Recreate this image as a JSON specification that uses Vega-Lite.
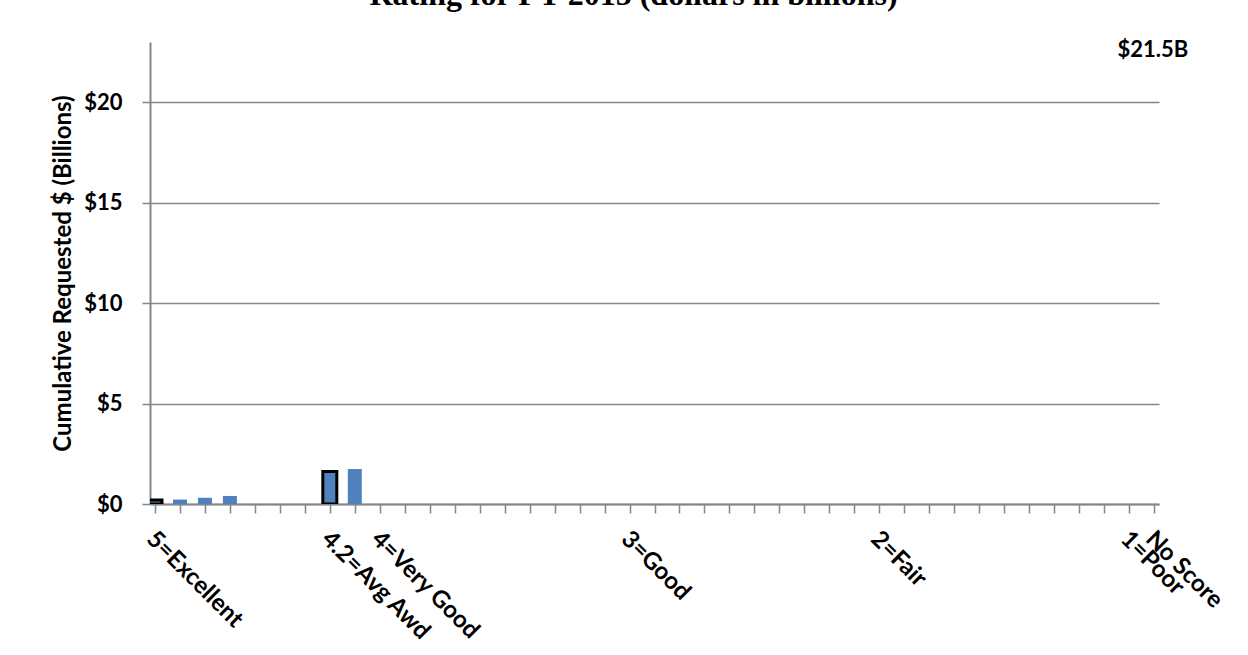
{
  "$schema": "https://vega.github.io/schema/vega-lite/v6.json",
  "width": 1009,
  "height": 462,
  "autosize": {"type": "none"},
  "padding": {"left": 150, "top": 42, "right": 89, "bottom": 151},
  "background": "white",
  "title": {
    "text": "Rating for FY 2015 (dollars in billions)",
    "font": "Liberation Serif",
    "fontSize": 32,
    "fontWeight": "bold",
    "color": "black",
    "anchor": "middle",
    "baseline": "alphabetic",
    "offset": 2,
    "dx": -21
  },
  "config": {"view": {"stroke": null}, "font": "Lato"},
  "layer": [
    {
      "data": {
        "values": [
          {"idx": 0, "value": 0.2},
          {"idx": 1, "value": 0.22},
          {"idx": 2, "value": 0.31},
          {"idx": 3, "value": 0.4},
          {"idx": 7, "value": 1.62},
          {"idx": 8, "value": 1.74}
        ]
      },
      "mark": {"type": "bar", "width": 14, "clip": true, "color": "#4F81BD"},
      "encoding": {
        "x": {
          "field": "idx",
          "type": "quantitative",
          "scale": {"domain": [0, 40], "nice": false, "zero": false},
          "axis": {
            "values": [0,1,2,3,4,5,6,7,8,9,10,11,12,13,14,15,16,17,18,19,20,21,22,23,24,25,26,27,28,29,30,31,32,33,34,35,36,37,38,39,40],
            "tickCount": 100,
            "title": null,
            "grid": false,
            "tickSize": 9,
            "tickColor": "#868686",
            "tickWidth": 1.5,
            "domainColor": "#868686",
            "domainWidth": 2,
            "labelExpr": "datum.value == 0 ? '5=Excellent' : datum.value == 7 ? '4.2=Avg Awd' : datum.value == 9 ? '4=Very Good' : datum.value == 19 ? '3=Good' : datum.value == 29 ? '2=Fair' : datum.value == 39 ? '1=Poor' : datum.value == 40 ? 'No Score' : ''",
            "labelAngle": 45,
            "labelAlign": "left",
            "labelBaseline": "middle",
            "labelPadding": 22,
            "labelOffset": -5,
            "labelFont": "Lato",
            "labelFontSize": 24,
            "labelFontWeight": "bold",
            "labelColor": "black",
            "labelOverlap": false,
            "labelBound": false,
            "labelFlush": false
          }
        },
        "y": {
          "field": "value",
          "type": "quantitative",
          "scale": {"domain": [0, 23], "nice": false},
          "axis": {
            "values": [0, 5, 10, 15, 20],
            "labelExpr": "'$' + datum.value",
            "grid": true,
            "gridColor": "#868686",
            "gridWidth": 1.5,
            "tickSize": 8,
            "tickColor": "#868686",
            "tickWidth": 1.5,
            "domainColor": "#868686",
            "domainWidth": 2,
            "labelFont": "Lato",
            "labelFontSize": 22,
            "labelFontWeight": "bold",
            "labelColor": "black",
            "labelPadding": 20,
            "title": "Cumulative Requested $ (Billions)",
            "titleFont": "Lato",
            "titleFontSize": 24,
            "titleFontWeight": "bold",
            "titleColor": "black",
            "titlePadding": 8
          }
        },
        "stroke": {"condition": {"test": "datum.idx == 0 || datum.idx == 7", "value": "black"}, "value": null},
        "strokeWidth": {"condition": {"test": "datum.idx == 0 || datum.idx == 7", "value": 3}, "value": 0}
      }
    },
    {
      "data": {"values": [{"idx": 39.95, "value": 22.6, "label": "$21.5B"}]},
      "mark": {"type": "text", "font": "Lato", "fontSize": 22, "fontWeight": "bold", "color": "black"},
      "encoding": {
        "x": {"field": "idx", "type": "quantitative"},
        "y": {"field": "value", "type": "quantitative"},
        "text": {"field": "label"}
      }
    }
  ]
}
